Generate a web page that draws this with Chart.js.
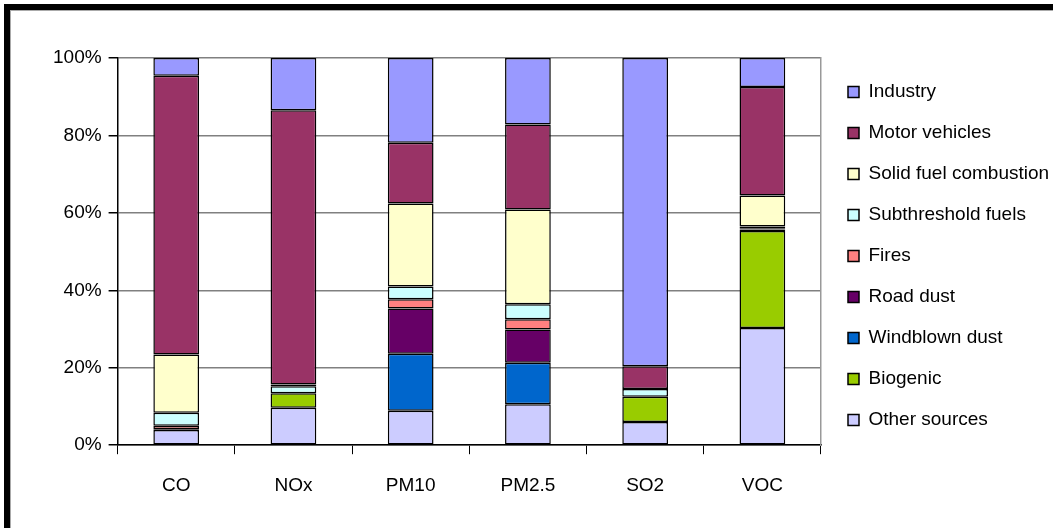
<!DOCTYPE html>
<html>
<head>
<meta charset="utf-8">
<script src="https://cdn.jsdelivr.net/npm/chart.js@4.4.1/dist/chart.umd.min.js"></script>
<style>
  html, body { margin: 0; padding: 0; background: #fff; overflow: hidden; }
  #wrap { position: absolute; left: 0; top: 0; width: 1053px; height: 528px; }
  #frame { position: absolute; left: 4px; top: 4px; width: 1200px; height: 700px;
           border-left: 6px solid #000; border-top: 6px solid #000; pointer-events: none; }
  #frame2 { position: absolute; left: 10px; top: 10px; width: 1200px; height: 700px;
           border-left: 1px solid #aaa; border-top: 1px solid #aaa; pointer-events: none; }
</style>
</head>
<body>
<div id="wrap"><canvas id="c" width="1053" height="528"></canvas></div>
<div id="frame"></div>
<div id="frame2"></div>
<script>
const categories = ['CO', 'NOx', 'PM10', 'PM2.5', 'SO2', 'VOC'];
const otherSources   = [3.9, 9.7, 8.9, 10.6, 6.0, 30.3];
const biogenic       = [0, 3.7, 0, 0, 6.5, 25.0];
const windblownDust  = [0, 0, 14.7, 10.7, 0, 0];
const roadDust       = [0.2, 0, 11.7, 8.6, 0, 0.4];
const fires          = [0.9, 0, 2.4, 2.6, 0, 0.3];
const subthreshold   = [3.4, 1.8, 3.3, 3.9, 2.0, 0.5];
const solidFuel      = [15.0, 0.5, 21.4, 24.5, 0, 8.0];
const motorVehicles  = [72.0, 70.8, 15.7, 21.9, 5.9, 28.0];
const industry       = [4.6, 13.5, 21.9, 17.2, 79.6, 7.5];
const yTicks = [0, 20, 40, 60, 80, 100];

const series = [
  ['Other sources', otherSources, '#CCCCFF'],
  ['Biogenic', biogenic, '#99CC00'],
  ['Windblown dust', windblownDust, '#0066CC'],
  ['Road dust', roadDust, '#660066'],
  ['Fires', fires, '#FF8080'],
  ['Subthreshold fuels', subthreshold, '#CCFFFF'],
  ['Solid fuel combustion', solidFuel, '#FFFFCC'],
  ['Motor vehicles', motorVehicles, '#993366'],
  ['Industry', industry, '#9999FF']
];

Chart.defaults.font.family = '"Liberation Sans", Arial, sans-serif';
Chart.defaults.color = '#000';

new Chart(document.getElementById('c'), {
  type: 'bar',
  data: {
    labels: categories,
    datasets: series.map(([label, data, color]) => ({
      label, data,
      backgroundColor: color,
      borderColor: '#000',
      borderWidth: 1.5,
      borderSkipped: false,
      barPercentage: 0.39,
      categoryPercentage: 1.0
    }))
  },
  options: {
    responsive: false,
    animation: false,
    devicePixelRatio: 1,
    layout: { padding: { left: 46, top: 58, right: 0, bottom: 11 } },
    plugins: {
      tooltip: { enabled: false },
      legend: {
        position: 'right',
        align: 'start',
        reverse: true,
        maxWidth: 227,
        title: { display: true, text: '', font: { size: 1 }, padding: { top: 0, bottom: 1.3 } },
        labels: {
          boxWidth: 11,
          boxHeight: 11,
          padding: 22,
          font: { size: 19 },
          color: '#000'
        }
      }
    },
    scales: {
      x: {
        stacked: true,
        grid: { offset: true, drawOnChartArea: false, drawTicks: true, tickLength: 9, color: '#000', lineWidth: 1 },
        border: { color: '#000', width: 1.5 },
        ticks: { font: { size: 19 }, padding: 20, color: '#000' }
      },
      y: {
        stacked: true,
        min: 0, max: 100,
        afterBuildTicks: (s) => { s.ticks = yTicks.map(v => ({ value: v })); },
        grid: { color: '#808080', lineWidth: 1.5, tickLength: 9, tickColor: '#000' },
        border: { color: '#000', width: 1.5 },
        ticks: { font: { size: 19 }, padding: 7, color: '#000', callback: (v) => v + '%' }
      },
      y2: {
        position: 'right',
        min: 0, max: 100,
        grid: { drawOnChartArea: false, drawTicks: false },
        border: { color: '#999', width: 1.5 },
        ticks: { display: false },
        afterFit: (s) => { s.width = 5; }
      }
    }
  }
});
</script>
</body>
</html>
